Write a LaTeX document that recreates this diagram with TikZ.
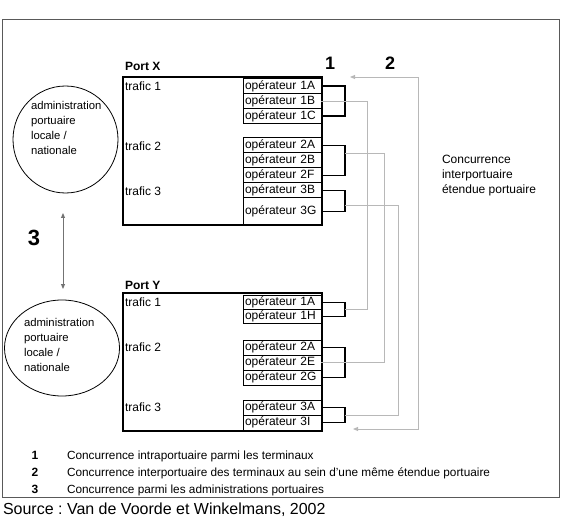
\documentclass[tikz,border=0pt]{standalone}
\usepackage{fontspec}
\setmainfont{Liberation Sans}
\usetikzlibrary{shapes.geometric,arrows.meta,calc}
\frenchspacing
\begin{document}
\begin{tikzpicture}[x=1pt,y=-1pt,
  every node/.style={inner sep=0pt, outer sep=0pt},
  lbl/.style={anchor=base west, font=\fontsize{12}{14}\selectfont},
  boldlbl/.style={anchor=base west, font=\bfseries\fontsize{12}{14}\selectfont},
  op/.style={draw, line width=1pt, anchor=north west, minimum width=78pt, minimum height=15pt,
    text width=74pt, align=left, inner xsep=2pt, font=\fontsize{12}{14}\selectfont,
    text height=8.6pt, text depth=2.4pt},
  portbox/.style={draw, line width=2pt, anchor=north west, minimum width=199pt},
  bracket/.style={line width=1.1pt},
  conc/.style={draw=black!28, line width=0.9pt},
  tip/.style={{Triangle[length=5pt,width=4pt]}-{Triangle[length=5pt,width=4pt]}},
  circ/.style={draw, ellipse, line width=0.8pt},
  circtxt/.style={anchor=west, align=left, font=\fontsize{11.3}{14.8}\selectfont},
  bignum/.style={anchor=base, font=\bfseries\fontsize{18}{20}\selectfont}
]
\useasboundingbox (0,0) rectangle (561,518);
% outer frame
\draw[black!65, line width=0.9pt] (2.5,19) rectangle (559,497);

% ---------- Port X ----------
\node[boldlbl] (PXl) at (125,71) {Port X};
\node[portbox, minimum height=148pt] (PX) at (123,77) {};
\node[lbl] (PXt1) at (125,90.3) {trafic 1};
\node[lbl] (PXt2) at (125,150.3) {trafic 2};
\node[lbl] (PXt3) at (125,195.3) {trafic 3};
\node[op] (X1A) at (243,78.5) {opérateur 1A};
\node[op] (X1B) at (243,93.5) {opérateur 1B};
\node[op] (X1C) at (243,108.5) {opérateur 1C};
\node[op] (X2A) at (243,138) {opérateur 2A};
\node[op] (X2B) at (243,153) {opérateur 2B};
\node[op] (X2F) at (243,168) {opérateur 2F};
\node[op] (X3B) at (243,183) {opérateur 3B};
\node[op, minimum height=27pt] (X3G) at (243,198) {opérateur 3G};

% ---------- Port Y ----------
\node[boldlbl] (PYl) at (125,289) {Port Y};
\node[portbox, minimum height=138pt] (PY) at (123,293) {};
\node[lbl] (PYt1) at (125,306.3) {trafic 1};
\node[lbl] (PYt2) at (125,351.3) {trafic 2};
\node[lbl] (PYt3) at (125,411.3) {trafic 3};
\node[op, minimum height=14pt] (Y1A) at (243,295.5) {opérateur 1A};
\node[op, minimum height=14pt] (Y1H) at (243,309.5) {opérateur 1H};
\node[op] (Y2A) at (243,340) {opérateur 2A};
\node[op] (Y2E) at (243,355) {opérateur 2E};
\node[op] (Y2G) at (243,370) {opérateur 2G};
\node[op] (Y3A) at (243,400) {opérateur 3A};
\node[op, minimum height=15.5pt] (Y3I) at (243,415) {opérateur 3I};

% ---------- brackets (concurrence 1) ----------
\draw[bracket] (X1A.east) -- ++(24,0) |- (X1C.east);
\draw[bracket] (X2A.east) -- ++(24,0) |- (X2F.east);
\draw[bracket] (X3B.east) -- ++(24,0) |- (X3G.east);
\draw[bracket] (Y1A.east) -- ++(24,0) |- (Y1H.east);
\draw[bracket] (Y2A.east) -- ++(24,0) |- (Y2G.east);
\draw[bracket] (Y3A.east) -- ++(24,0) |- (Y3I.east);

% ---------- concurrence 2 links ----------
\coordinate (bY1) at ($(Y1A.east)!0.5!(Y1H.east)+(24,0)$);
\coordinate (bX2) at ($(X2A.east)+(24,7.5)$);
\coordinate (bX3) at ($(X3B.east)!0.5!(X3G.east)+(24,4)$);
\coordinate (bY3) at ($(Y3A.east)!0.5!(Y3I.east)+(24,0)$);
\draw[conc] (X1B.east) -- ++(46,0) |- (bY1);
\draw[conc] (bX2) -- ++(39,0) |- (Y2E.east);
\draw[conc] (bX3) -- ++(53,0) |- (bY3);
\coordinate (a2t) at (350,77);
\coordinate (a2b) at (353,429);
\draw[conc, tip] (a2t) -- ++(68,0) |- (a2b);

\node[bignum] (n1) at (330,69.5) {1};
\node[bignum] (n2) at (390,69.5) {2};

\node[anchor=west, align=left, font=\fontsize{12}{15}\selectfont] (CI) at (442,176)
  {Concurrence\\interportuaire\\étendue portuaire};

% ---------- administrations ----------
\node[circ, minimum width=105pt, minimum height=107pt] (C1) at (65.5,139.5) {};
\node[circtxt] (T1) at (31,128) {administration\\portuaire\\locale /\\nationale};
\node[circ, minimum width=115pt, minimum height=96pt] (C2) at (62,348) {};
\node[circtxt] (T2) at (24,345) {administration\\portuaire\\locale /\\nationale};
\coordinate (a3t) at (63,213);
\coordinate (a3b) at (63,289);
\draw[black!55, line width=0.9pt, tip] (a3t) -- (a3b);
\node[anchor=base, font=\bfseries\fontsize{22}{24}\selectfont] (n3) at (34,246) {3};

% ---------- legend ----------
\node[anchor=base, font=\bfseries\fontsize{12}{14}\selectfont] (L1n) at (35,459.3) {1};
\node[anchor=base, font=\bfseries\fontsize{12}{14}\selectfont] (L2n) at (35,476.3) {2};
\node[anchor=base, font=\bfseries\fontsize{12}{14}\selectfont] (L3n) at (35,493.3) {3};
\node[anchor=base west, font=\fontsize{11.8}{14}\selectfont] (L1t) at (67,459.3) {Concurrence intraportuaire parmi les terminaux};
\node[anchor=base west, font=\fontsize{11.8}{14}\selectfont] (L2t) at (67,476.3) {Concurrence interportuaire des terminaux au sein d'une même étendue portuaire};
\node[anchor=base west, font=\fontsize{11.8}{14}\selectfont] (L3t) at (67,493.3) {Concurrence parmi les administrations portuaires};

\node[anchor=base west, font=\fontsize{16}{19}\selectfont] (src) at (3,514) {Source : Van de Voorde et Winkelmans, 2002};
\end{tikzpicture}
\end{document}
